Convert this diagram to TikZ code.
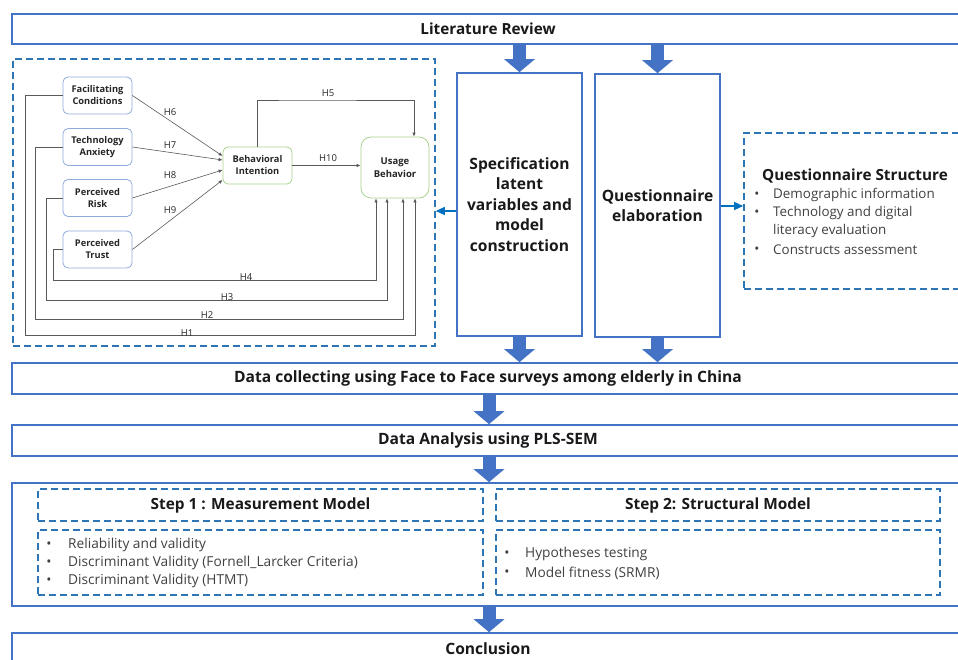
\documentclass[tikz,border=0pt]{standalone}
\usepackage{fontspec}
\setmainfont{Open Sans}
\usetikzlibrary{arrows.meta}
\definecolor{obl}{HTML}{4472C4}
\definecolor{dbl}{HTML}{2E75B6}
\definecolor{sbl}{HTML}{0070C0}
\definecolor{lbl}{HTML}{8FAADC}
\definecolor{lgr}{HTML}{A9D18E}
\definecolor{txg}{HTML}{404040}
\begin{document}
\begin{tikzpicture}[x=1pt,y=-1pt,
  solidbox/.style={draw=obl, line width=1.6pt, inner sep=0pt, align=center, text=black!90},
  dashbox/.style={draw=dbl, line width=1.6pt, dash pattern=on 7pt off 4pt, inner sep=0pt, text=black!90},
  bigarrow/.style={draw=obl, line width=13pt, -{Triangle[width=30pt,length=13pt]}},
  smallarrow/.style={draw=sbl, line width=1.3pt, -{Triangle[width=8pt,length=9pt]}},
  inode/.style={draw=lbl, line width=0.8pt, rounded corners=5pt, minimum width=69pt, minimum height=37pt, inner sep=0pt, align=center, text=black!85, font=\fontsize{9.3}{12}\selectfont\bfseries},
  gnode/.style={inode, draw=lgr},
  hl/.style={draw=black!65, line width=0.6pt, -{Latex[length=4pt,width=3.5pt]}},
  hlab/.style={font=\fontsize{9.5}{11}\selectfont, inner sep=1pt, text=black!85},
  item/.style={anchor=west, text=txg, inner sep=0pt},
  bul/.style={anchor=center, text=txg, inner sep=0pt}
]
\useasboundingbox (0,0) rectangle (958,660);
\begin{scope}
\clip (0,0) rectangle (958,660);
% main flow boxes
\node[solidbox, minimum width=952pt, minimum height=30pt, font=\fontsize{15.3}{18}\selectfont\bfseries] (lit) at (488,29) {Literature Review};
\node[solidbox, minimum width=125pt, minimum height=263pt, font=\fontsize{15.6}{20.5}\selectfont\bfseries] (spec) at (519.5,204.5) {Specification\\latent\\variables and\\model\\construction};
\node[solidbox, minimum width=125pt, minimum height=263pt, font=\fontsize{15.6}{20.5}\selectfont\bfseries] (qe) at (657.5,205.5) {Questionnaire\\elaboration};
\node[solidbox, minimum width=952pt, minimum height=31pt, font=\fontsize{15.6}{18}\selectfont\bfseries] (dc) at (488,378.5) {Data collecting using Face to Face surveys among elderly in China};
\node[solidbox, minimum width=952pt, minimum height=31pt, font=\fontsize{15.6}{18}\selectfont\bfseries] (da) at (488,440.5) {Data Analysis using PLS-SEM};
\node[solidbox, minimum width=952pt, minimum height=123pt] (steps) at (488,544.5) {};
\node[solidbox, minimum width=952pt, minimum height=32pt, font=\fontsize{15.6}{18}\selectfont\bfseries] (conc) at (488,649) {Conclusion};

% dashed containers
\node[dashbox, minimum width=422pt, minimum height=287pt] (mdl) at (224,202.5) {};
\node[dashbox, minimum width=222pt, minimum height=156pt] (qs) at (855,211) {};

% questionnaire structure text
\node[anchor=west, inner sep=0pt, text=black!90, font=\fontsize{15.3}{18}\selectfont\bfseries] (qst) at (762,176) {Questionnaire Structure};
\begin{scope}[font=\fontsize{13.4}{16}\selectfont]
\node[bul] (qb1) at (757,195) {•};
\node[item] (qi1) at (773,195) {Demographic information};
\node[bul] (qb2) at (757,213) {•};
\node[item] (qi2) at (773,213) {Technology and digital};
\node[item] (qi3) at (773,231.5) {literacy evaluation};
\node[bul] (qb3) at (757,250) {•};
\node[item] (qi4) at (773,250) {Constructs assessment};
\end{scope}

% big arrows
\draw[bigarrow] (lit.south -| spec.north) -- (spec.north);
\draw[bigarrow] (lit.south -| qe.north) -- (qe.north);
\draw[bigarrow] (spec.south) -- (spec.south |- dc.north);
\draw[bigarrow] (qe.south) -- (qe.south |- dc.north);
\draw[bigarrow] ([xshift=1pt]dc.south) -- ([xshift=1pt]da.north);
\draw[bigarrow] ([xshift=1pt]da.south) -- ([xshift=1pt]steps.north);
\draw[bigarrow] ([xshift=1pt]steps.south) -- ([xshift=1pt]conc.north);

% small arrows
\draw[smallarrow] (spec.west |- 0,211) -- (mdl.east |- 0,211);
\draw[smallarrow] (qe.east |- 0,206) -- (qs.west |- 0,206);

% steps
\node[dashbox, minimum width=445pt, minimum height=32pt, font=\fontsize{15.4}{18}\selectfont\bfseries] (s1h) at (260.5,505) {Step 1 : Measurement Model};
\node[dashbox, minimum width=444pt, minimum height=32pt, font=\fontsize{15.4}{18}\selectfont\bfseries] (s2h) at (718,505) {Step 2: Structural Model};
\node[dashbox, minimum width=445pt, minimum height=65pt] (s1b) at (260.5,562.5) {};
\node[dashbox, minimum width=444pt, minimum height=65pt] (s2b) at (718,562.5) {};
\begin{scope}[font=\fontsize{13.7}{16}\selectfont]
\node[bul] (sb1) at (49,545) {•};
\node[item] (si1) at (68,545) {Reliability and validity};
\node[bul] (sb2) at (49,563) {•};
\node[item] (si2) at (68,563) {Discriminant Validity (Fornell\_Larcker Criteria)};
\node[bul] (sb3) at (49,581) {•};
\node[item] (si3) at (68,581) {Discriminant Validity (HTMT)};
\node[bul] (tb1) at (507,554) {•};
\node[item] (ti1) at (525,554) {Hypotheses testing};
\node[bul] (tb2) at (507,573) {•};
\node[item] (ti2) at (525,573) {Model fitness (SRMR)};
\end{scope}

% research model
\node[inode] (fc) at (97.5,95.5) {Facilitating\\Conditions};
\node[inode] (ta) at (97.5,147) {Technology\\Anxiety};
\node[inode] (pr) at (97.5,198) {Perceived\\Risk};
\node[inode] (pt) at (97.5,249.5) {Perceived\\Trust};
\node[gnode] (bi) at (257.5,165.5) {Behavioral\\Intention};
\node[gnode, minimum width=68pt, minimum height=61pt, rounded corners=10pt, font=\fontsize{9.5}{13}\selectfont\bfseries] (ub) at (395,167.5) {Usage\\Behavior};

\draw[hl] (fc.east) -- (bi.west |- 0,156);
\draw[hl] (ta.east) -- (bi.west |- 0,160);
\draw[hl] (pr.east) -- (bi.west |- 0,170);
\draw[hl] (pt.east) -- (bi.west |- 0,180);
\draw[hl] (bi.east) -- (ub.west |- bi.east);
\draw[hl] (bi.north) |- (300,100) -| ([xshift=19pt]ub.north);
\draw[hl] (pt.west) -| (53,280) -| ([xshift=-19pt]ub.south);
\draw[hl] (pr.west) -| (46,300) -| ([xshift=-8pt]ub.south);
\draw[hl] (ta.west) -| (35,319) -| ([xshift=8pt]ub.south);
\draw[hl] (fc.west) -| (25,335) -| ([xshift=20pt]ub.south);

\node[hlab] (h6) at (170,112) {H6};
\node[hlab] (h7) at (170,145) {H7};
\node[hlab] (h8) at (170,175) {H8};
\node[hlab] (h9) at (170,210) {H9};
\node[hlab] (h10) at (328,158) {H10};
\node[hlab] (h5) at (328,93) {H5};
\node[hlab] (h4) at (246,277) {H4};
\node[hlab] (h3) at (227,297) {H3};
\node[hlab] (h2) at (207,315) {H2};
\node[hlab] (h1) at (187,333) {H1};
\end{scope}
\end{tikzpicture}
\end{document}
